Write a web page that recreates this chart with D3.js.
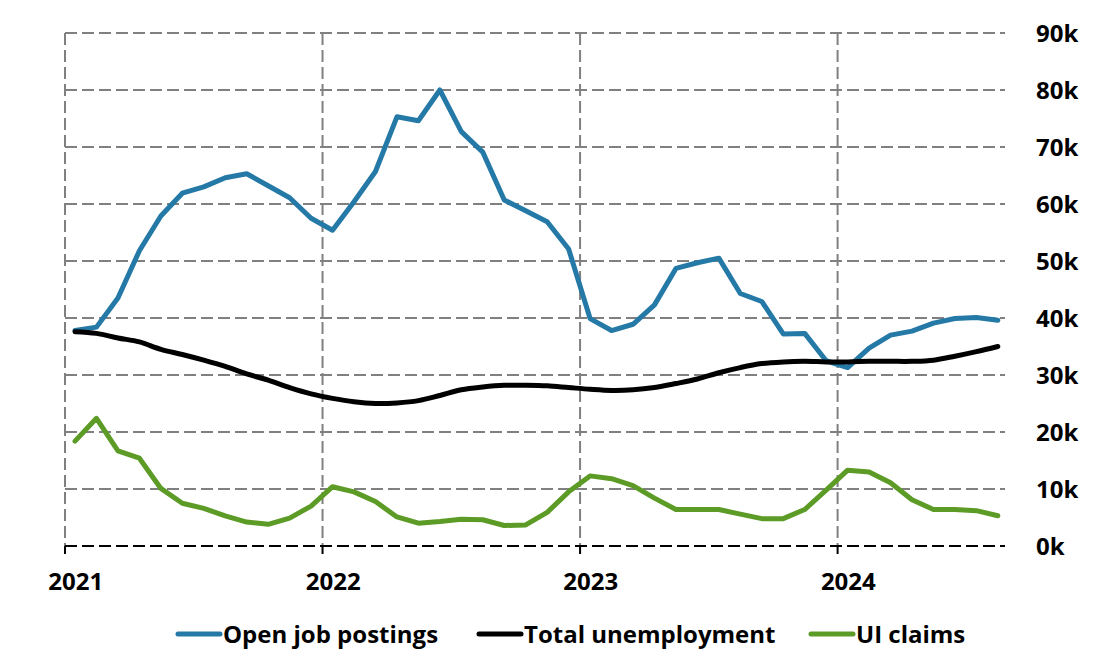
<!DOCTYPE html>
<html>
<head>
<meta charset="utf-8">
<script src="https://d3js.org/d3.v7.min.js"></script>
<style>
  body { margin: 0; background: #fff; }
  text { font-family: "Open Sans", "Noto Sans", sans-serif; font-weight: bold; fill: #000; }
</style>
</head>
<body>
<div id="chart"></div>
<script>
// monthly, Jan 2021 .. Aug 2024
var months = d3.range(44).map(function (i) {
  return new Date(2021, i, 15);
});

// Open job postings
var postings = [37.8, 38.4, 43.5, 51.8, 57.9, 61.9, 63.0, 64.6, 65.3, 63.2, 61.1, 57.5,
                55.4, 60.4, 65.7, 75.3, 74.6, 80.0, 72.7, 69.1, 60.7, 58.8, 56.9, 52.1,
                39.9, 37.8, 38.9, 42.3, 48.7, 49.7, 50.5, 44.3, 42.9, 37.2, 37.3, 32.5,
                31.3, 34.7, 37.0, 37.7, 39.1, 39.9, 40.1, 39.6];

// Total unemployment
var unemployment = [37.6, 37.3, 36.5, 35.8, 34.5, 33.6, 32.6, 31.5, 30.2, 29.1, 27.8, 26.7,
                    25.9, 25.3, 25.0, 25.1, 25.5, 26.4, 27.4, 27.9, 28.2, 28.2, 28.1, 27.8,
                    27.5, 27.3, 27.4, 27.8, 28.5, 29.3, 30.4, 31.3, 32.0, 32.3, 32.4, 32.3,
                    32.3, 32.4, 32.4, 32.4, 32.6, 33.3, 34.1, 35.0];

// UI claims
var claims = [18.4, 22.4, 16.7, 15.4, 10.1, 7.5, 6.6, 5.3, 4.2, 3.8, 4.9, 7.0,
              10.4, 9.5, 7.8, 5.1, 4.0, 4.3, 4.7, 4.6, 3.6, 3.7, 5.9, 9.5,
              12.3, 11.8, 10.6, 8.4, 6.4, 6.4, 6.4, 5.6, 4.8, 4.8, 6.4, 9.8,
              13.3, 13.0, 11.1, 8.1, 6.4, 6.4, 6.2, 5.3];

var years = [2021, 2022, 2023, 2024];
var yTicks = [0, 10, 20, 30, 40, 50, 60, 70, 80, 90];

var series = [
  { name: "Open job postings", values: postings, color: "#2479a6", smooth: false },
  { name: "Total unemployment", values: unemployment, color: "#000000", smooth: true },
  { name: "UI claims", values: claims, color: "#5c9b26", smooth: false }
];

var width = 1111, height = 666;
var plotLeft = 65, plotRight = 1005, plotTop = 33, plotBottom = 546;

var svg = d3.select("#chart").append("svg")
  .attr("width", width)
  .attr("height", height);

// x measured in months since Jan 1 2021
var x = d3.scaleLinear().domain([0, 43.8]).range([plotLeft, plotRight]);
var y = d3.scaleLinear().domain([0, 90]).range([plotBottom, plotTop]);

function monthIndex(d) {
  return (d.getFullYear() - 2021) * 12 + d.getMonth() + (d.getDate() - 1) / 30;
}

// horizontal grid
svg.append("g")
  .selectAll("line")
  .data(yTicks.filter(function (d) { return d > 0; }))
  .enter().append("line")
  .attr("x1", plotLeft).attr("x2", plotRight)
  .attr("y1", function (d) { return y(d); })
  .attr("y2", function (d) { return y(d); })
  .attr("stroke", "#808080")
  .attr("stroke-width", 2)
  .attr("stroke-dasharray", "12,5");

// vertical grid at each year
svg.append("g")
  .selectAll("line")
  .data(years)
  .enter().append("line")
  .attr("x1", function (d) { return x((d - 2021) * 12); })
  .attr("x2", function (d) { return x((d - 2021) * 12); })
  .attr("y1", plotTop).attr("y2", plotBottom)
  .attr("stroke", "#808080")
  .attr("stroke-width", 2)
  .attr("stroke-dasharray", "12,5");

// x axis line (dashed black) and year ticks
svg.append("line")
  .attr("x1", plotLeft).attr("x2", plotRight)
  .attr("y1", plotBottom).attr("y2", plotBottom)
  .attr("stroke", "#000")
  .attr("stroke-width", 2)
  .attr("stroke-dasharray", "12,5");

svg.append("g")
  .selectAll("line")
  .data(years)
  .enter().append("line")
  .attr("x1", function (d) { return x((d - 2021) * 12); })
  .attr("x2", function (d) { return x((d - 2021) * 12); })
  .attr("y1", plotBottom).attr("y2", plotBottom + 8)
  .attr("stroke", "#000")
  .attr("stroke-width", 2);

// year labels, centred on mid January
svg.append("g")
  .selectAll("text")
  .data(years)
  .enter().append("text")
  .attr("x", function (d) { return x((d - 2021) * 12 + 0.5); })
  .attr("y", 590)
  .attr("text-anchor", "middle")
  .style("font-size", "24px")
  .text(function (d) { return d; });

// y labels on the right
svg.append("g")
  .selectAll("text")
  .data(yTicks)
  .enter().append("text")
  .attr("x", 1036)
  .attr("y", function (d) { return y(d); })
  .attr("dy", "0.36em")
  .style("font-size", "24px")
  .text(function (d) { return d + "k"; });

// lines
series.forEach(function (s) {
  var line = d3.line()
    .x(function (d, i) { return x(monthIndex(months[i])); })
    .y(function (d) { return y(d); })
    .curve(s.smooth ? d3.curveCatmullRom.alpha(0.5) : d3.curveLinear);

  svg.append("path")
    .datum(s.values)
    .attr("d", line)
    .attr("fill", "none")
    .attr("stroke", s.color)
    .attr("stroke-width", 5)
    .attr("stroke-linejoin", "round")
    .attr("stroke-linecap", "round");
});

// legend
var legendX = [178, 479, 811];
var legend = svg.append("g")
  .selectAll("g")
  .data(series)
  .enter().append("g")
  .attr("transform", function (d, i) { return "translate(" + legendX[i] + ",634)"; });

legend.append("line")
  .attr("x1", 0).attr("x2", 42)
  .attr("stroke", function (d) { return d.color; })
  .attr("stroke-width", 5)
  .attr("stroke-linecap", "round");

legend.append("text")
  .attr("x", 45)
  .attr("dy", "0.36em")
  .style("font-size", "24px")
  .text(function (d) { return d.name; });
</script>
</body>
</html>
